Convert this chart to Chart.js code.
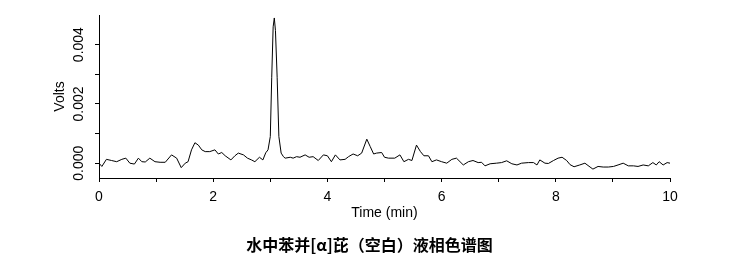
<!DOCTYPE html>
<html lang="zh">
<head>
  <meta charset="UTF-8">
  <title>水中苯并[α]芘（空白）液相色谱图</title>
  <script src="https://cdn.jsdelivr.net/npm/chart.js"></script>
  <style>
    html, body { margin: 0; padding: 0; background: #fff; }
    #wrap { width: 739px; height: 275px; }
  </style>
</head>
<body>
<div id="wrap"><canvas id="chrom" width="739" height="275"></canvas></div>

<script>
// trace: time (min) and signal (V)
const timeMin = [
  0.00, 0.05, 0.13, 0.22, 0.31, 0.40, 0.47, 0.54, 0.62, 0.69,
  0.75, 0.81, 0.89, 0.98, 1.07, 1.16, 1.27, 1.36, 1.44, 1.51,
  1.56, 1.62, 1.68, 1.74, 1.80, 1.86, 1.94, 2.03, 2.09, 2.15,
  2.21, 2.31, 2.38, 2.44, 2.53, 2.60, 2.67, 2.73, 2.81, 2.87,
  2.92, 2.96, 3.00, 3.025, 3.05, 3.07, 3.09, 3.12, 3.15, 3.19,
  3.23, 3.26, 3.35, 3.40, 3.46, 3.52, 3.61, 3.68, 3.75, 3.84,
  3.93, 4.00, 4.07, 4.14, 4.22, 4.31, 4.37, 4.45, 4.53, 4.60,
  4.69, 4.75, 4.81, 4.86, 4.95, 5.00, 5.07, 5.18, 5.27, 5.34,
  5.42, 5.48, 5.56, 5.63, 5.69, 5.77, 5.83, 5.91, 6.00, 6.09,
  6.18, 6.26, 6.38, 6.47, 6.55, 6.64, 6.70, 6.76, 6.85, 6.96,
  7.05, 7.14, 7.23, 7.32, 7.40, 7.52, 7.61, 7.67, 7.72, 7.81,
  7.87, 7.96, 8.04, 8.11, 8.19, 8.25, 8.32, 8.42, 8.51, 8.60,
  8.65, 8.74, 8.83, 8.92, 9.01, 9.09, 9.18, 9.27, 9.36, 9.44,
  9.53, 9.62, 9.70, 9.76, 9.81, 9.88, 9.95, 10.00
];
const volts = [
  0.00000, -0.00011, 0.00013, 0.00009, 0.00005, 0.00013, 0.00017, 0.00000, -0.00003, 0.00017,
  0.00005, 0.00004, 0.00017, 0.00005, 0.00003, 0.00003, 0.00028, 0.00017, -0.00015, 0.00000,
  0.00005, 0.00045, 0.00069, 0.00061, 0.00045, 0.00039, 0.00039, 0.00045, 0.00031, 0.00036,
  0.00025, 0.00011, 0.00025, 0.00034, 0.00028, 0.00017, 0.00011, 0.00005, 0.00020, 0.00011,
  0.00035, 0.00045, 0.00090, 0.00290, 0.00460, 0.00490, 0.00448, 0.00290, 0.00090, 0.00034,
  0.00022, 0.00017, 0.00020, 0.00017, 0.00022, 0.00020, 0.00028, 0.00020, 0.00022, 0.00009,
  0.00028, 0.00025, 0.00005, 0.00028, 0.00011, 0.00013, 0.00022, 0.00031, 0.00025, 0.00034,
  0.00081, 0.00056, 0.00031, 0.00034, 0.00036, 0.00020, 0.00017, 0.00017, 0.00028, 0.00005,
  0.00013, 0.00009, 0.00061, 0.00039, 0.00025, 0.00025, 0.00005, 0.00011, 0.00005, 0.00000,
  0.00013, 0.00017, -0.00006, 0.00005, 0.00009, 0.00002, 0.00003, -0.00009, -0.00002, 0.00000,
  0.00002, 0.00008, -0.00002, -0.00006, 0.00000, 0.00002, 0.00002, -0.00006, 0.00011, 0.00000,
  -0.00001, 0.00009, 0.00017, 0.00020, 0.00009, -0.00005, -0.00012, -0.00006, 0.00000, -0.00013,
  -0.00020, -0.00011, -0.00013, -0.00013, -0.00011, -0.00006, 0.00000, -0.00009, -0.00009, -0.00011,
  -0.00006, -0.00009, 0.00002, -0.00006, 0.00005, -0.00006, 0.00002, 0.00000
];

const xTicks = [0, 1, 2, 3, 4, 5, 6, 7, 8, 9, 10];
const xTickLabels = ['0', '', '2', '', '4', '', '6', '', '8', '', '10'];
const yTicks = [0, 0.001, 0.002, 0.003, 0.004];
const yTickLabels = ['0.000', '', '0.002', '', '0.004'];

Chart.defaults.font.family = "'Liberation Sans', Arial, sans-serif";
Chart.defaults.color = '#000';

const points = timeMin.map((t, i) => ({ x: t, y: volts[i] }));

new Chart(document.getElementById('chrom'), {
  type: 'line',
  data: {
    datasets: [{
      data: points,
      borderColor: '#000',
      borderWidth: 1,
      pointRadius: 0,
      tension: 0,
      fill: false
    }]
  },
  options: {
    responsive: false,
    animation: false,
    devicePixelRatio: 1,
    layout: { padding: { top: 15, right: 0, left: 0, bottom: 0 } },
    plugins: {
      legend: { display: false },
      tooltip: { enabled: false },
      title: {
        display: true,
        position: 'bottom',
        text: '水中苯并[α]芘（空白）液相色谱图',
        color: '#000',
        font: { family: "'Noto Sans CJK SC', sans-serif", size: 16, weight: 'bold' },
        padding: { top: 13.4, bottom: 20.4 }
      }
    },
    scales: {
      x: {
        type: 'linear',
        min: 0,
        max: 10,
        afterBuildTicks: s => { s.ticks = xTicks.map(v => ({ value: v })); },
        afterFit: s => { s.height = 44; },
        ticks: {
          autoSkip: false,
          maxRotation: 0,
          padding: 6.5,
          font: { size: 14 },
          callback: (v, i) => xTickLabels[i]
        },
        grid: { drawOnChartArea: false, drawTicks: true, tickLength: 4, tickColor: '#000' },
        border: { display: true, color: '#000', width: 1 },
        title: {
          display: true,
          text: 'Time (min)',
          font: { size: 14 },
          padding: { top: 0, bottom: 0 }
        }
      },
      y: {
        type: 'linear',
        min: -0.0005,
        max: 0.005,
        afterBuildTicks: s => { s.ticks = yTicks.map(v => ({ value: v })); },
        afterFit: s => { s.width = 99; },
        ticks: {
          autoSkip: false,
          minRotation: 90,
          maxRotation: 90,
          crossAlign: 'center',
          padding: -1.5,
          font: { size: 14 },
          callback: (v, i) => yTickLabels[i]
        },
        grid: { drawOnChartArea: false, drawTicks: true, tickLength: 4, tickColor: '#000' },
        border: { display: true, color: '#000', width: 1 },
        title: {
          display: true,
          text: 'Volts',
          font: { size: 14 },
          padding: { top: 51.6, bottom: 0 }
        }
      },
      // empty right-hand strip so the plot ends at x=670 while the caption spans the full width
      spacer: {
        type: 'linear',
        position: 'right',
        display: true,
        min: 0,
        max: 1,
        afterFit: s => { s.width = 69; },
        ticks: { display: false },
        grid: { display: false, drawTicks: false },
        border: { display: false },
        title: { display: false }
      }
    }
  }
});
</script>
</body>
</html>
